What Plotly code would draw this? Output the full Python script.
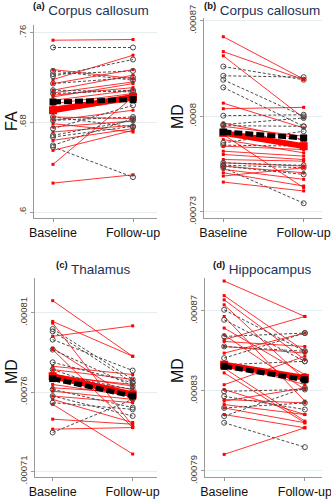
import plotly.graph_objects as go

# ---- (a) Corpus callosum, FA ----
fa_cc_red_base = [.7533, .7271, .7182, .7146, .7087, .7063, .7042, .7027, .6997, .6967, .6937,
                  .6893, .6848, .6818, .6788, .6759, .6714, .6639, .6550, .6425, .6258]
fa_cc_red_fu = [.7539, .7191, .7399, .7271, .7221, .7161, .7110, .7146, .7087, .7057, .7027,
                .6997, .6833, .6908, .6714, .6812, .6774, .6744, .6729, .7027, .6332]
fa_cc_gray_base = [.7468, .7259, .7229, .7212, .7146, .7087, .7057, .6848, .6818, .6744, .6684,
                   .6595, .6580, .6669]
fa_cc_gray_fu = [.7468, .7176, .7259, .7361, .7200, .7072, .7087, .6759, .6848, .6952, .6818,
                 .6833, .6311, .6765]
fa_cc_red_mean = [.6908, .7027]
fa_cc_gray_mean = [.6982, .7003]

# ---- (b) Corpus callosum, MD ----
md_cc_red_base = [8.583e-4, 8.474e-4, 8.443e-4, 8.097e-4, 8.056e-4, 7.952e-4, 7.927e-4, 7.891e-4,
                  7.867e-4, 7.830e-4, 7.782e-4, 7.745e-4, 7.721e-4, 7.684e-4, 7.660e-4, 7.636e-4,
                  7.612e-4, 7.587e-4, 7.563e-4, 7.519e-4]
md_cc_red_fu = [8.272e-4, 8.268e-4, 7.988e-4, 7.915e-4, 8.066e-4, 7.830e-4, 7.854e-4, 7.782e-4,
                7.478e-4, 7.733e-4, 7.757e-4, 7.709e-4, 7.684e-4, 7.672e-4, 7.636e-4, 7.587e-4,
                7.539e-4, 7.490e-4, 7.624e-4, 7.454e-4]
md_cc_gray_base = [8.365e-4, 8.297e-4, 8.268e-4, 8.212e-4, 8.005e-4, 7.940e-4, 7.932e-4, 7.879e-4,
                   7.806e-4, 7.789e-4, 7.660e-4, 7.643e-4, 7.636e-4, 7.624e-4]
md_cc_gray_fu = [8.268e-4, 8.287e-4, 8.000e-4, 7.927e-4, 8.012e-4, 7.988e-4, 7.927e-4, 7.830e-4,
                 7.891e-4, 7.782e-4, 7.641e-4, 7.624e-4, 7.575e-4, 7.364e-4]
md_cc_red_mean = [7.879e-4, 7.782e-4]
md_cc_gray_mean = [7.886e-4, 7.842e-4]

# ---- (c) Thalamus, MD ----
md_th_red_base = [8.177e-4, 8.046e-4, 8.035e-4, 7.952e-4, 7.878e-4, 7.868e-4, 7.763e-4, 7.742e-4,
                  7.711e-4, 7.690e-4, 7.648e-4, 7.627e-4, 7.606e-4, 7.575e-4, 7.554e-4, 7.523e-4,
                  7.429e-4, 7.366e-4, 7.700e-4]
md_th_red_fu = [7.826e-4, 7.826e-4, 7.387e-4, 8.018e-4, 7.554e-4, 7.376e-4, 7.711e-4, 7.680e-4,
                7.638e-4, 7.617e-4, 7.575e-4, 7.596e-4, 7.554e-4, 7.533e-4, 7.408e-4, 7.209e-4,
                7.397e-4, 7.376e-4, 7.648e-4]
md_th_gray_base = [7.998e-4, 7.983e-4, 7.931e-4, 7.868e-4, 7.788e-4, 7.742e-4, 7.711e-4, 7.617e-4,
                   7.575e-4, 7.533e-4, 7.345e-4]
md_th_gray_fu = [7.680e-4, 7.659e-4, 7.736e-4, 7.638e-4, 7.659e-4, 7.575e-4, 7.617e-4, 7.502e-4,
                 7.449e-4, 7.491e-4, 7.554e-4]
md_th_red_mean = [7.700e-4, 7.585e-4]
md_th_gray_mean = [7.685e-4, 7.575e-4]

# ---- (d) Hippocampus, MD ----
md_hc_red_base = [8.849e-4, 8.776e-4, 8.755e-4, 8.730e-4, 8.672e-4, 8.614e-4, 8.580e-4, 8.556e-4,
                  8.547e-4, 8.522e-4, 8.489e-4, 8.439e-4, 8.414e-4, 8.390e-4, 8.331e-4, 8.307e-4,
                  8.257e-4, 8.232e-4, 8.215e-4, 8.182e-4, 7.983e-4, 8.249e-4]
md_hc_red_fu = [8.672e-4, 8.498e-4, 8.456e-4, 8.356e-4, 8.249e-4, 8.381e-4, 8.307e-4, 8.672e-4,
                8.522e-4, 8.489e-4, 8.589e-4, 8.332e-4, 8.149e-4, 8.141e-4, 8.473e-4, 8.182e-4,
                8.240e-4, 8.182e-4, 8.141e-4, 8.116e-4, 8.116e-4, 8.315e-4]
md_hc_gray_base = [8.705e-4, 8.655e-4, 8.572e-4, 8.522e-4, 8.464e-4, 8.431e-4, 8.298e-4, 8.273e-4,
                   8.215e-4, 8.174e-4, 8.141e-4]
md_hc_gray_fu = [8.498e-4, 8.448e-4, 8.589e-4, 8.498e-4, 8.589e-4, 8.448e-4, 8.307e-4, 8.207e-4,
                 8.240e-4, 8.315e-4, 8.019e-4]
md_hc_red_mean = [8.431e-4, 8.365e-4]
md_hc_gray_mean = [8.423e-4, 8.356e-4]

time_labels = ["Baseline", "Follow-up"]

panels = [
    dict(tag="(a)", name="Corpus callosum", ytitle="FA",
         red=(fa_cc_red_base, fa_cc_red_fu), gray=(fa_cc_gray_base, fa_cc_gray_fu),
         red_mean=fa_cc_red_mean, gray_mean=fa_cc_gray_mean,
         ticks=[.6, .68, .76], ticktext=[".6", ".68", ".76"],
         yrange=[.59465, .76687], xrange=[-0.2375, 1.3],
         xdom=[34 / 331, 157 / 331], ydom=[1 - 218 / 500, 1 - 25 / 500],
         title_xy=(91, 9), ytitle_xy=(11, 121)),
    dict(tag="(b)", name="Corpus callosum", ytitle="MD",
         red=(md_cc_red_base, md_cc_red_fu), gray=(md_cc_gray_base, md_cc_gray_fu),
         red_mean=md_cc_red_mean, gray_mean=md_cc_gray_mean,
         ticks=[.00073, .0008, .00087], ticktext=[".00073", ".0008", ".00087"],
         yrange=[.0007256, .000872], xrange=[-0.24, 1.228],
         xdom=[204 / 331, 322 / 331], ydom=[1 - 218 / 500, 1 - 18 / 500],
         title_xy=(262, 9), ytitle_xy=(177, 117)),
    dict(tag="(c)", name="Thalamus", ytitle="MD",
         red=(md_th_red_base, md_th_red_fu), gray=(md_th_gray_base, md_th_gray_fu),
         red_mean=md_th_red_mean, gray_mean=md_th_gray_mean,
         ticks=[.00071, .00076, .00081], ticktext=[".00071", ".00076", ".00081"],
         yrange=[.0007064, .000832], xrange=[-0.221, 1.304],
         xdom=[35 / 331, 157 / 331], ydom=[1 - 477 / 500, 1 - 278 / 500],
         title_xy=(93, 268), ytitle_xy=(11, 372)),
    dict(tag="(d)", name="Hippocampus", ytitle="MD",
         red=(md_hc_red_base, md_hc_red_fu), gray=(md_hc_gray_base, md_hc_gray_fu),
         red_mean=md_hc_red_mean, gray_mean=md_hc_gray_mean,
         ticks=[.00079, .00083, .00087], ticktext=[".00079", ".00083", ".00087"],
         yrange=[.000787, .0008864], xrange=[-0.2375, 1.2125],
         xdom=[205 / 331, 322 / 331], ydom=[1 - 477 / 500, 1 - 278 / 500],
         title_xy=(262, 268), ytitle_xy=(177, 371)),
]

FONT = "Liberation Sans, Arial, sans-serif"
RED = "rgba(255,0,0,0.8)"
GRAY = "#4a4a4a"


def segments(base, fu):
    xs, ys = [], []
    for b, f in zip(base, fu):
        xs += [0, 1, None]
        ys += [b, f, None]
    return xs, ys


fig = go.Figure()
annotations = []
layout_axes = {}

for i, p in enumerate(panels, start=1):
    xa = "x" if i == 1 else f"x{i}"
    ya = "y" if i == 1 else f"y{i}"

    xs, ys = segments(*p["red"])
    fig.add_trace(go.Scatter(x=xs, y=ys, xaxis=xa, yaxis=ya, mode="lines+markers",
                             line=dict(color=RED, width=1),
                             marker=dict(symbol="square", size=3, color="red"),
                             showlegend=False, hoverinfo="skip"))
    xs, ys = segments(*p["gray"])
    fig.add_trace(go.Scatter(x=xs, y=ys, xaxis=xa, yaxis=ya, mode="lines+markers",
                             line=dict(color=GRAY, width=1, dash="3px,2px"),
                             marker=dict(symbol="circle-open", size=5,
                                         line=dict(color="#333", width=1)),
                             showlegend=False, hoverinfo="skip"))
    fig.add_trace(go.Scatter(x=[0, 1], y=p["red_mean"], xaxis=xa, yaxis=ya,
                             mode="lines+markers",
                             line=dict(color="red", width=6),
                             marker=dict(symbol="square", size=8, color="red"),
                             showlegend=False, hoverinfo="skip"))
    fig.add_trace(go.Scatter(x=[0, 1], y=p["gray_mean"], xaxis=xa, yaxis=ya,
                             mode="lines+markers",
                             line=dict(color="black", width=5, dash="8px,3px"),
                             marker=dict(symbol="square", size=7, color="black"),
                             showlegend=False, hoverinfo="skip"))

    xkey = "xaxis" if i == 1 else f"xaxis{i}"
    ykey = "yaxis" if i == 1 else f"yaxis{i}"
    layout_axes[xkey] = dict(
        domain=p["xdom"], anchor=ya, range=p["xrange"], automargin=False,
        ticklabeloverflow="allow",
        tickvals=[0, 1], ticktext=time_labels, ticks="outside", ticklen=3,
        tickcolor="#999", showgrid=False, zeroline=False,
        showline=True, linecolor="#999", linewidth=1,
        tickfont=dict(family=FONT, size=12.5, color="#111"),
    )
    layout_axes[ykey] = dict(
        domain=p["ydom"], anchor=xa, range=p["yrange"], automargin=False,
        ticklabeloverflow="allow",
        tickvals=p["ticks"], ticktext=p["ticktext"], tickangle=-90,
        ticks="outside", ticklen=3, tickcolor="#999",
        showgrid=True, gridcolor="#e4eef0", gridwidth=1, zeroline=False,
        showline=True, linecolor="#999", linewidth=1.2,
        tickfont=dict(family=FONT, size=9.5, color="#4a3c28"),
    )

    tx, ty = p["title_xy"]
    annotations.append(dict(
        x=tx / 331, y=1 - ty / 500, xref="paper", yref="paper",
        xanchor="center", yanchor="middle", showarrow=False,
        text=f"<sup><b>{p['tag']}</b></sup> <span style='color:#1c3258'>{p['name']}</span>",
        font=dict(family=FONT, size=13.5, color="#111"),
    ))
    yx, yy = p["ytitle_xy"]
    annotations.append(dict(
        x=yx / 331, y=1 - yy / 500, xref="paper", yref="paper",
        xanchor="center", yanchor="middle", showarrow=False, textangle=-90,
        text=p["ytitle"], font=dict(family=FONT, size=16, color="#111"),
    ))

fig.update_layout(
    width=331, height=500, margin=dict(l=0, r=0, t=0, b=0, autoexpand=False),
    paper_bgcolor="white", plot_bgcolor="white",
    annotations=annotations, **layout_axes,
)

fig.write_html("out.html", config={"displayModeBar": False})
